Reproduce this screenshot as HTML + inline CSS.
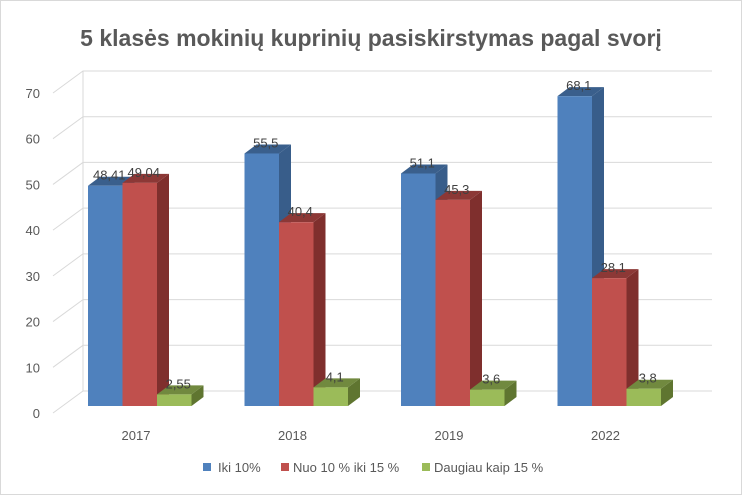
<!DOCTYPE html>
<html><head><meta charset="utf-8"><style>
body{margin:0;background:#fff;font-family:"Liberation Sans",sans-serif}
svg{display:block}
</style></head><body>
<svg width="742" height="495">
<rect x="0.5" y="0.5" width="741" height="494" fill="#fff" stroke="#d9d9d9"/>
<text x="371" y="46" text-anchor="middle" font-size="23" font-weight="bold" fill="#595959">5 klasės mokinių kuprinių pasiskirstymas pagal svorį</text>
<g id="grid"></g><g id="bars"></g><g id="labels"></g>
<g font-size="13" fill="#595959">
<rect x="203" y="463" width="8" height="8" fill="#4f81bd"/>
<text x="218" y="472">Iki 10%</text>
<rect x="281" y="463" width="8" height="8" fill="#c0504d"/>
<text x="293" y="472">Nuo 10 % iki 15 %</text>
<rect x="422" y="463" width="8" height="8" fill="#9bbb59"/>
<text x="434" y="472">Daugiau kaip 15 %</text>
</g>
</svg>
<script>
const categories=["2017","2018","2019","2022"];
const iki10=[48.41,55.5,51.1,68.1];
const nuo10iki15=[49.04,40.4,45.3,28.1];
const daugiau15=[2.55,4.1,3.6,3.8];
const labels1=["48,41","55,5","51,1","68,1"];
const labels2=["49,04","40,4","45,3","28,1"];
const labels3=["2,55","4,1","3,6","3,8"];
const ticks=[0,10,20,30,40,50,60,70];
const NS="http://www.w3.org/2000/svg";
function mk(t,a,p){const e=document.createElementNS(NS,t);for(const k in a)e.setAttribute(k,a[k]);p.appendChild(e);return e;}
const yBack=v=>391-v*320/70, yFront=v=>413-v*320/70, yBar=v=>406-v*4.55;
const xCat=i=>88+i*156.5;
const grid=document.getElementById('grid'),bars=document.getElementById('bars'),lab=document.getElementById('labels');
ticks.forEach(v=>{
 const l=mk('polyline',{points:`53,${yFront(v)} 83,${yBack(v)} 712,${yBack(v)}`,fill:'none',stroke:'#d9d9d9','stroke-width':1},grid);
 
 
 const t=mk('text',{x:40,y:yFront(v)+5,'text-anchor':'end','font-size':13,fill:'#595959'},grid);
 t.textContent=v;
 
 
});
mk('line',{x1:83,y1:71,x2:83,y2:391,stroke:'#d9d9d9'},grid);
const series=[[iki10,labels1,'#4f81bd','#385d8a','#3a5f8c'],[nuo10iki15,labels2,'#c0504d','#7f2f2d','#8c3836'],[daugiau15,labels3,'#9bbb59','#5f7530','#71893f']];
const W=34.5,dx=12,dy=9;
categories.forEach((c,i)=>{
 series.forEach((s,j)=>{
  const v=s[0][i],x=xCat(i)+j*W,top=yBar(v),bot=yBar(0);
  const g=mk('g',{},bars);
  
  
  mk('polygon',{points:`${x+W},${top} ${x+W+dx},${top-dy} ${x+W+dx},${bot-dy} ${x+W},${bot}`,fill:s[3]},g);
  mk('polygon',{points:`${x},${top} ${x+dx},${top-dy} ${x+W+dx},${top-dy} ${x+W},${top}`,fill:s[4]},g);
  mk('rect',{x:x,y:top,width:W,height:bot-top,fill:s[2]},g);
  const t=mk('text',{x:x+W/2+4,y:top-6,'text-anchor':'middle','font-size':13,fill:'#404040'},lab);
  t.textContent=s[1][i];
  
  
 });
 const t=mk('text',{x:xCat(i)+48,y:440,'text-anchor':'middle','font-size':13,fill:'#595959'},lab);
 t.textContent=c;
 
 
});
</script>
</body></html>
